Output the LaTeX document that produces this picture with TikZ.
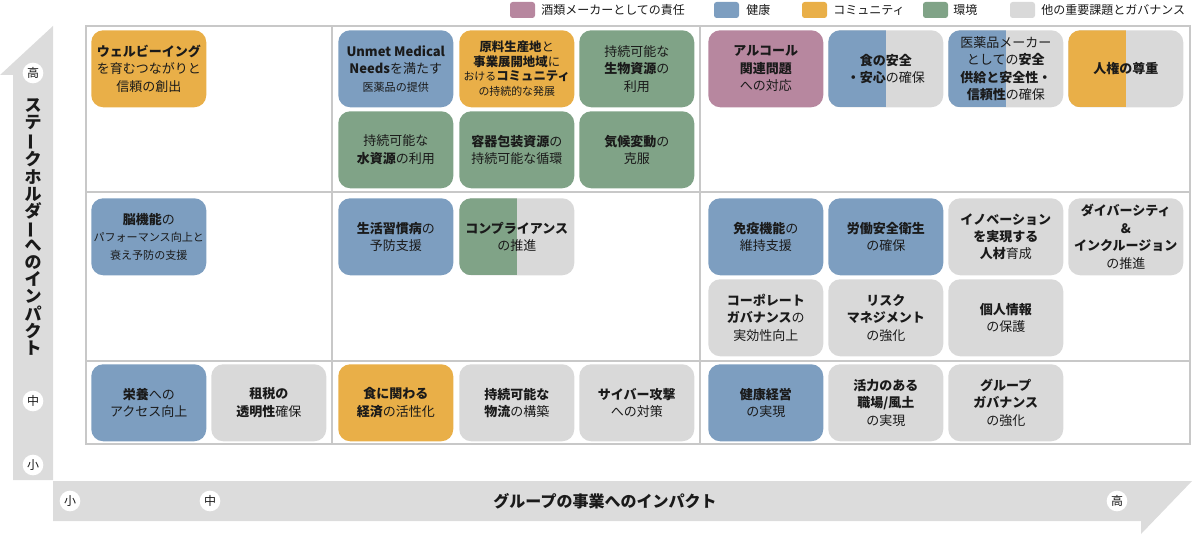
\documentclass[tikz,border=0pt]{standalone}
\usepackage{fontspec}
\usepackage{graphicx}
\setmainfont{Noto Sans CJK JP}
\definecolor{pinkc}{HTML}{B7879F}
\definecolor{bluec}{HTML}{7D9EC0}
\definecolor{orangec}{HTML}{E9AF48}
\definecolor{greenc}{HTML}{80A387}
\definecolor{grayc}{HTML}{D9D9D9}
\definecolor{arrowc}{HTML}{DCDCDC}
\definecolor{gridc}{HTML}{C8C8C8}
\definecolor{textc}{HTML}{1A1A1A}
\newcommand{\smt}[1]{{\fontsize{8.3}{13.1}\selectfont #1}}
\newcommand{\vbar}{\rotatebox[origin=c]{90}{ー}}
\tikzset{
  tb/.style={rounded corners=9pt, minimum width=86.25pt, minimum height=57.75pt,
    inner sep=0pt, align=center, text=textc, anchor=north west,
    font=\fontsize{9.75}{13.1}\selectfont},
  circ/.style={circle, fill=white, minimum size=15.5pt, inner sep=0pt,
    text=textc, font=\fontsize{9}{10}\selectfont},
  leg/.style={rounded corners=2pt, minimum width=18.75pt, minimum height=12pt, inner sep=0pt},
  legt/.style={anchor=west, inner sep=0pt, text=textc, font=\fontsize{9}{10}\selectfont},
}
\newcommand{\tbox}[5]{\node[tb, fill=#4] (#1) at (#2,#3) {#5};}
\newcommand{\halfbox}[5]{\node[tb, fill=grayc, path picture={\fill[#4, sharp corners] (path picture bounding box.south west) rectangle (path picture bounding box.north);}] (#1) at (#2,#3) {#5};}
\begin{document}
\begin{tikzpicture}[x=0.75pt, y=-0.75pt]
\useasboundingbox (0,0) rectangle (1193,535);
% axes arrows
\fill[arrowc] (13,480) -- (13,75) -- (0,75) -- (53,26) -- (53,480) -- cycle;
\fill[arrowc] (53,481) -- (1192,481) -- (1141,534) -- (1141,521) -- (53,521) -- cycle;
\node[circ] (yhigh) at (33,73) {高};
\node[circ] (ymid) at (33,401) {中};
\node[circ] (ylow) at (33,465) {小};
\node[circ] (xlow) at (70,501) {小};
\node[circ] (xmid) at (210,501) {中};
\node[circ] (xhigh) at (1117,501) {高};
\node[align=center, inner sep=0pt, text=textc, font=\fontsize{12.75}{12.85}\selectfont\bfseries] (ytitle) at (33,227)
  {ス\\テ\\\vbar\\ク\\ホ\\ル\\ダ\\\vbar\\へ\\の\\イ\\ン\\パ\\ク\\ト};
\node[inner sep=0pt, text=textc, font=\fontsize{12}{14}\selectfont\bfseries] (xtitle) at (605,501) {グループの事業へのインパクト};
% legend
\node[leg, fill=pinkc] (lg1) at (522.5,10) {};
\node[legt] (lt1) at (541,10) {酒類メーカーとしての責任};
\node[leg, fill=bluec] (lg2) at (726.5,10) {};
\node[legt] (lt2) at (746,10) {健康};
\node[leg, fill=orangec] (lg3) at (814.5,10) {};
\node[legt] (lt3) at (833,10) {コミュニティ};
\node[leg, fill=greenc] (lg4) at (935.5,10) {};
\node[legt] (lt4) at (953,10) {環境};
\node[leg, fill=grayc] (lg5) at (1022.5,10) {};
\node[legt] (lt5) at (1041,10) {他の重要課題とガバナンス};
% grid
\draw[gridc, line width=1pt] (86,26) rectangle (1190,444);
\draw[gridc, line width=1pt] (332,26) -- (332,444) (700,26) -- (700,444)
  (86,192) -- (1190,192) (86,361) -- (1190,361);
% row A
\tbox{welbeing}{91}{30}{orangec}{\textbf{ウェルビーイング}\\を育むつながりと\\信頼の創出}
\tbox{unmet}{338}{30}{bluec}{\textbf{Unmet Medical}\\\textbf{Needs}を満たす\\\smt{医薬品の提供}}
\node[tb, fill=orangec, font=\fontsize{9.3}{10.9}\selectfont] (genryo) at (459,30)
  {\textbf{原料生産地}と\\\textbf{事業展開地域}に\\{\fontsize{8.2}{10.9}\selectfont おける}\textbf{コミュニティ}\\{\fontsize{8.2}{10.9}\selectfont の持続的な発展}};
\tbox{seibutsu}{579}{30}{greenc}{持続可能な\\\textbf{生物資源}の\\利用}
\tbox{alcohol}{708}{30}{pinkc}{\textbf{アルコール}\\\textbf{関連問題}\\への対応}
\halfbox{food}{828}{30}{bluec}{\textbf{食の安全}\\\textbf{・安心}の確保}
\halfbox{pharma}{948}{30}{bluec}{医薬品メーカー\\としての\textbf{安全}\\\textbf{供給と安全性・}\\\textbf{信頼性}の確保}
\halfbox{jinken}{1068}{30}{orangec}{\textbf{人権の尊重}}
% row B
\tbox{water}{338}{111}{greenc}{持続可能な\\\textbf{水資源}の利用}
\tbox{container}{459}{111}{greenc}{\textbf{容器包装資源}の\\持続可能な循環}
\tbox{climate}{579}{111}{greenc}{\textbf{気候変動}の\\克服}
% row C
\tbox{brain}{91}{198}{bluec}{\textbf{脳機能}の\\\smt{パフォーマンス向上と}\\\smt{衰え予防の支援}}
\tbox{lifestyle}{338}{198}{bluec}{\textbf{生活習慣病}の\\予防支援}
\halfbox{compliance}{459}{198}{greenc}{\textbf{コンプライアンス}\\の推進}
\tbox{immune}{708}{198}{bluec}{\textbf{免疫機能}の\\維持支援}
\tbox{labor}{828}{198}{bluec}{\textbf{労働安全衛生}\\の確保}
\tbox{innovation}{948}{198}{grayc}{\textbf{イノベーション}\\\textbf{を実現する}\\\textbf{人材}育成}
\tbox{diversity}{1068}{198}{grayc}{\textbf{ダイバーシティ}\\\textbf{\&}\\\textbf{インクルージョン}\\の推進}
% row D
\tbox{corporate}{708}{279}{grayc}{\textbf{コーポレート}\\\textbf{ガバナンス}の\\実効性向上}
\tbox{risk}{828}{279}{grayc}{\textbf{リスク}\\\textbf{マネジメント}\\の強化}
\tbox{privacy}{948}{279}{grayc}{\textbf{個人情報}\\の保護}
% row E
\tbox{nutrition}{91}{364}{bluec}{\textbf{栄養}への\\アクセス向上}
\tbox{tax}{211}{364}{grayc}{\textbf{租税の}\\\textbf{透明性}確保}
\tbox{foodecon}{338}{364}{orangec}{\textbf{食に関わる}\\\textbf{経済}の活性化}
\tbox{logistics}{459}{364}{grayc}{\textbf{持続可能な}\\\textbf{物流}の構築}
\tbox{cyber}{579}{364}{grayc}{\textbf{サイバー攻撃}\\への対策}
\tbox{healthmgmt}{708}{364}{bluec}{\textbf{健康経営}\\の実現}
\tbox{vitality}{828}{364}{grayc}{\textbf{活力のある}\\\textbf{職場/風土}\\の実現}
\tbox{groupgov}{948}{364}{grayc}{\textbf{グループ}\\\textbf{ガバナンス}\\の強化}
\end{tikzpicture}
\end{document}
